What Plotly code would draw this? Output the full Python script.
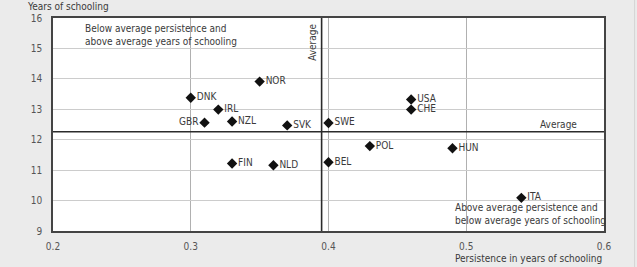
import plotly.graph_objects as go

countries = ["NOR", "DNK", "IRL", "GBR", "NZL", "SVK", "SWE", "USA", "CHE",
             "FIN", "NLD", "POL", "HUN", "BEL", "ITA"]
persistence = [0.35, 0.30, 0.32, 0.31, 0.33, 0.37, 0.40, 0.46, 0.46,
               0.33, 0.36, 0.43, 0.49, 0.40, 0.54]
years = [13.91, 13.38, 12.99, 12.56, 12.60, 12.47, 12.55, 13.32, 12.99,
         11.22, 11.16, 11.79, 11.72, 11.26, 10.09]
avg_persistence = 0.395
avg_years = 12.26

x_ticks = [0.2, 0.3, 0.4, 0.5, 0.6]
y_ticks = [9, 10, 11, 12, 13, 14, 15, 16]

FONT = "Liberation Sans Narrow, DejaVu Sans Condensed, Roboto, sans-serif"
TXT = "#3a3a3a"
FS = 10

positions = ["middle left" if c == "GBR" else "middle right" for c in countries]

fig = go.Figure()
fig.add_trace(go.Scatter(
    x=persistence, y=years, mode="markers+text",
    text=countries, textposition=positions,
    textfont=dict(family=FONT, size=FS, color=TXT),
    marker=dict(symbol="diamond", size=8, color="#111111"),
    cliponaxis=False, showlegend=False, hoverinfo="skip",
))

shapes = [
    dict(type="line", xref="x", yref="y", x0=avg_persistence, x1=avg_persistence,
         y0=9, y1=16, line=dict(color="#2b2b2b", width=1.6), layer="above"),
    dict(type="line", xref="x", yref="y", x0=0.2, x1=0.6,
         y0=avg_years, y1=avg_years, line=dict(color="#2b2b2b", width=1.6), layer="above"),
    dict(type="line", xref="paper", yref="paper", x0=1.0555, x1=1.0555, y0=-0.2, y1=1.1,
         line=dict(color="#d4d4d4", width=1)),
]

annotations = [
    dict(text="Years of schooling", xref="paper", yref="paper", x=-0.05, y=1.056,
         xanchor="left", yanchor="middle", showarrow=False,
         font=dict(family=FONT, size=FS, color=TXT)),
    dict(text="Persistence in years of schooling", xref="paper", yref="paper", x=1.0, y=-0.127,
         xanchor="right", yanchor="middle", showarrow=False,
         font=dict(family=FONT, size=FS, color=TXT)),
    dict(text="Below average persistence and<br>above average years of schooling",
         xref="x", yref="paper", x=0.2218, y=0.985, xanchor="left", yanchor="top",
         align="left", showarrow=False, font=dict(family=FONT, size=FS, color=TXT)),
    dict(text="Above average persistence and<br>below average years of schooling",
         xref="x", yref="paper", x=0.4905, y=0.015, xanchor="left", yanchor="bottom",
         align="left", showarrow=False, font=dict(family=FONT, size=FS, color=TXT)),
    dict(text="Average", xref="x", yref="paper", x=avg_persistence, y=0.98,
         xanchor="right", yanchor="top", xshift=-1, textangle=-90, showarrow=False,
         font=dict(family=FONT, size=FS, color=TXT)),
    dict(text="Average", xref="x", yref="y", x=0.582, y=avg_years,
         xanchor="right", yanchor="bottom", showarrow=False,
         font=dict(family=FONT, size=FS, color=TXT)),
]

fig.update_layout(
    width=637, height=267,
    margin=dict(l=53, r=33, t=18, b=36),
    paper_bgcolor="#ebebeb", plot_bgcolor="#ffffff",
    font=dict(family=FONT, size=FS, color=TXT),
    shapes=shapes, annotations=annotations,
    xaxis=dict(range=[0.2, 0.6], tickvals=x_ticks, tickformat=".1f",
               showgrid=True, gridcolor="#b0b0b0", gridwidth=1,
               showline=True, linecolor="#444444", linewidth=1.5, mirror=True,
               zeroline=False, ticks="", ticklabelstandoff=5,
               tickfont=dict(family=FONT, size=FS, color="#555555")),
    yaxis=dict(range=[9, 16], tickvals=y_ticks,
               showgrid=True, gridcolor="#cccccc", gridwidth=1,
               showline=True, linecolor="#444444", linewidth=1.5, mirror=True,
               zeroline=False, ticks="", ticklabelstandoff=7,
               tickfont=dict(family=FONT, size=FS, color="#555555")),
)

fig.write_html("out.html")
